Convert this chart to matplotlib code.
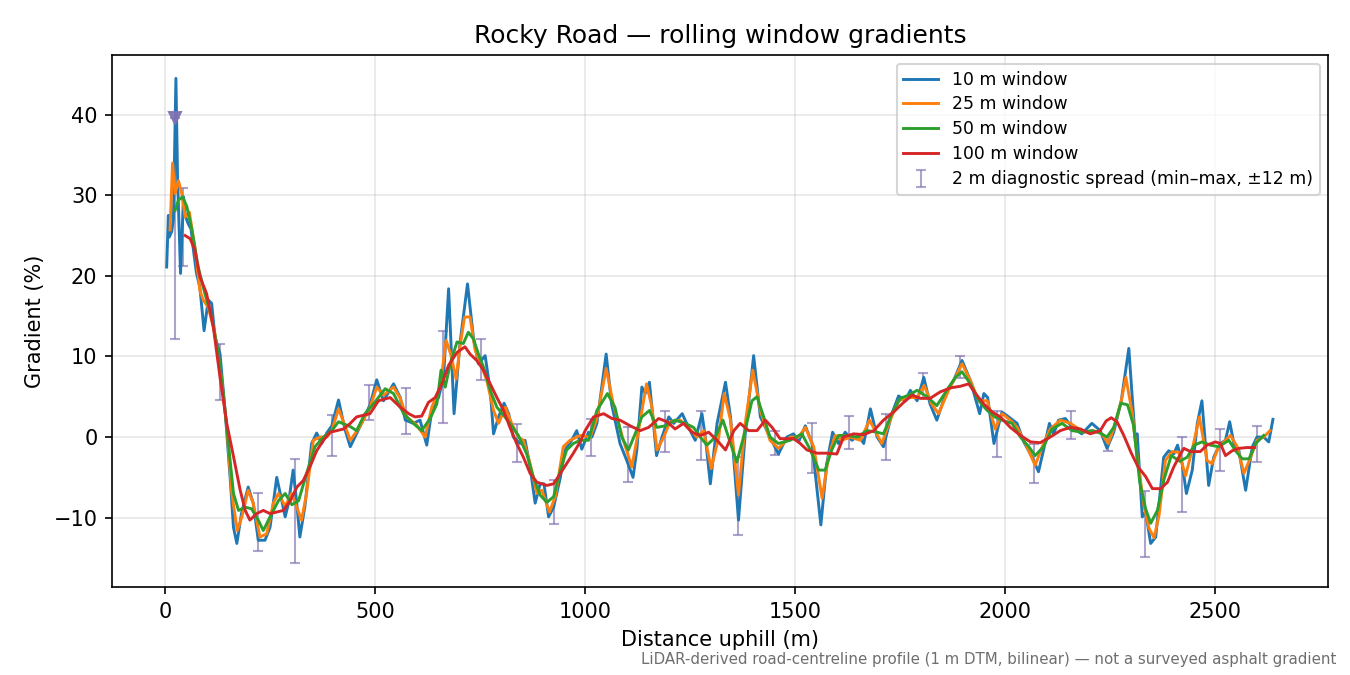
import matplotlib
matplotlib.use("Agg")
import matplotlib.pyplot as plt
import numpy as np

# gradient profiles (distance m, gradient %)
d10 = [4, 8, 10, 16, 20, 26, 30, 37, 44, 48, 55, 62, 67, 75, 83, 93, 103, 111, 119, 131,
       143, 155, 163, 171, 182, 198, 210, 222, 238, 250, 266, 278, 286, 294, 305, 313, 321, 333, 349, 361,
       373, 385, 397, 413, 428, 441, 465, 488, 504, 520, 544, 560, 572, 591, 607, 623, 635, 651, 663, 675,
       688, 702, 720, 734, 746, 762, 774, 782, 794, 807, 818, 829, 845, 857, 869, 881, 893, 902, 913, 925,
       941, 952, 968, 980, 992, 1008, 1016, 1028, 1050, 1063, 1083, 1099, 1114, 1123, 1135, 1143, 1153, 1170, 1183, 1199,
       1211, 1231, 1246, 1262, 1278, 1286, 1298, 1314, 1334, 1346, 1365, 1381, 1401, 1417, 1440, 1460, 1480, 1496, 1508, 1524,
       1540, 1561, 1575, 1589, 1603, 1619, 1635, 1651, 1663, 1679, 1695, 1710, 1730, 1746, 1762, 1774, 1790, 1806, 1821, 1837,
       1861, 1877, 1897, 1917, 1939, 1949, 1958, 1973, 1985, 1992, 2008, 2028, 2044, 2064, 2079, 2091, 2105, 2115, 2127, 2143,
       2159, 2182, 2206, 2226, 2242, 2258, 2276, 2294, 2302, 2309, 2314, 2326, 2334, 2346, 2358, 2377, 2389, 2401, 2410, 2421,
       2431, 2445, 2457, 2468, 2484, 2496, 2512, 2524, 2534, 2544, 2556, 2572, 2588, 2599, 2615, 2627, 2637]
g10 = [21.1, 27.5, 24.8, 25.5, 27.0, 44.5, 32.0, 20.3, 29.8, 27.5, 26.5, 25.8, 23.5, 20.3, 18.6, 13.2, 17.0, 16.6, 12.4, 10.3,
       3.3, -5.0, -11.2, -13.2, -9.5, -6.2, -8.2, -12.8, -12.8, -11.2, -5.0, -7.9, -9.9, -8.2, -4.1, -7.9, -12.4, -8.6, -0.8, 0.5,
       -0.8, 0.5, 1.4, 4.6, 1.0, -1.2, 1.4, 4.0, 7.1, 4.5, 6.6, 4.9, 2.1, 1.7, 2.1, -1.0, 3.3, 4.9, 7.4, 18.4,
       2.9, 11.6, 19.0, 12.4, 9.1, 10.1, 5.8, 0.4, 2.5, 4.2, 2.9, 0.0, -0.8, -0.4, -3.7, -8.2, -5.8, -5.8, -9.9, -8.7,
       -5.0, -1.6, -0.4, 0.8, -1.5, 0.6, 0.0, 1.7, 10.3, 4.1, -0.8, -2.9, -5.0, -1.6, 6.2, 5.4, 6.8, -2.3, 0.0, 2.5,
       1.7, 2.9, 1.2, -0.4, 2.9, 0.0, -5.8, 1.7, 6.8, 2.5, -10.3, 0.4, 10.1, 2.5, 0.0, -2.1, 0.0, 0.4, -0.6, 1.4,
       -0.8, -10.9, -3.3, 0.6, -0.8, 0.6, -0.4, 0.2, -0.8, 3.5, 0.0, -1.2, 2.9, 5.1, 4.5, 5.8, 4.5, 7.4, 4.1, 2.1,
       5.8, 7.0, 9.5, 7.0, 2.9, 5.4, 4.9, -0.8, 1.7, 3.1, 2.5, 1.7, -0.6, -2.5, -4.3, -1.6, 1.7, 0.4, 2.1, 2.3,
       1.2, 0.4, 1.7, 0.8, -1.4, 0.6, 4.5, 11.0, 5.0, 0.0, 0.4, -9.9, -9.3, -13.2, -12.4, -2.5, -1.7, -2.1, -1.0, -3.3,
       -7.0, -4.1, 1.7, 4.5, -6.0, -2.5, -0.8, -0.4, 1.9, -0.8, -1.7, -6.6, -1.2, 0.0, 0.0, -0.6, 2.2]

d25 = [12, 18, 24, 32, 40, 48, 58, 71, 83, 91, 103, 119, 135, 147, 159, 172, 183, 198, 210, 226,
       242, 258, 270, 286, 301, 313, 325, 337, 353, 369, 385, 397, 413, 429, 441, 464, 488, 504, 520, 544,
       560, 575, 599, 619, 635, 655, 669, 680, 693, 702, 713, 726, 738, 754, 766, 782, 794, 810, 825, 841,
       853, 869, 885, 897, 915, 929, 948, 964, 988, 1012, 1028, 1050, 1067, 1091, 1111, 1127, 1146, 1159, 1171, 1187,
       1202, 1226, 1246, 1266, 1282, 1300, 1318, 1331, 1346, 1365, 1381, 1399, 1417, 1440, 1460, 1488, 1508, 1524, 1544, 1564,
       1579, 1595, 1611, 1631, 1655, 1677, 1706, 1726, 1746, 1766, 1790, 1807, 1825, 1841, 1865, 1881, 1897, 1917, 1937, 1957,
       1976, 1992, 2012, 2028, 2048, 2071, 2091, 2107, 2131, 2155, 2187, 2210, 2230, 2245, 2261, 2276, 2287, 2302, 2314, 2330,
       2342, 2354, 2366, 2381, 2397, 2413, 2429, 2445, 2462, 2480, 2492, 2508, 2524, 2536, 2552, 2568, 2584, 2599, 2615, 2630]
g25 = [25.7, 34.0, 30.2, 31.8, 30.2, 27.3, 27.9, 23.6, 18.2, 17.0, 16.1, 12.8, 7.0, 1.3, -7.0, -11.6, -9.9, -6.6, -8.2, -12.4,
       -12.0, -8.2, -7.0, -8.6, -7.0, -8.6, -10.3, -7.0, -0.4, 0.0, 0.0, 0.8, 3.5, 1.3, -0.4, 1.3, 3.7, 6.2, 5.2, 6.2,
       4.8, 2.5, 1.5, 0.0, 3.7, 6.2, 12.0, 10.3, 7.2, 11.2, 14.9, 14.9, 10.8, 8.7, 7.0, 3.3, 1.7, 3.7, 1.7, 0.0,
       -0.4, -3.3, -7.0, -6.6, -9.3, -7.4, -1.2, -0.4, 0.2, 0.0, 2.3, 8.5, 4.1, -0.4, -3.7, 0.8, 6.6, 3.7, -1.6, 0.0,
       1.9, 2.1, 1.2, 0.0, 0.8, -3.9, 0.0, 5.4, 2.1, -7.2, 1.7, 8.3, 3.3, -0.4, -1.4, 0.0, 0.0, 1.2, -1.2, -7.6,
       -2.5, 0.2, -0.4, 0.0, -0.4, 2.1, -0.8, 2.1, 4.5, 4.9, 4.9, 6.4, 4.1, 2.9, 5.8, 7.4, 9.1, 7.0, 4.5, 4.5,
       1.0, 2.9, 2.1, 1.2, -0.8, -3.5, -0.8, 1.0, 2.1, 1.7, 0.6, 0.8, 0.4, -0.8, 1.5, 4.5, 7.4, 3.0, -2.5, -8.5,
       -11.3, -12.5, -9.7, -2.9, -1.8, -1.9, -4.8, -1.5, 2.5, -2.9, -3.3, -1.2, -0.4, 0.2, -1.2, -4.5, -2.5, -0.4, 0.0, 0.8]

d50 = [24, 32, 42, 52, 64, 79, 95, 111, 127, 139, 151, 163, 175, 191, 206, 222, 234, 250, 270, 286,
       302, 318, 337, 357, 377, 397, 413, 441, 456, 476, 496, 524, 544, 568, 591, 611, 631, 647, 657, 667,
       679, 695, 710, 722, 734, 746, 758, 774, 790, 806, 821, 841, 861, 877, 893, 909, 925, 941, 956, 972,
       988, 1008, 1028, 1053, 1071, 1087, 1103, 1119, 1135, 1153, 1171, 1191, 1214, 1238, 1258, 1274, 1290, 1310, 1328, 1346,
       1361, 1377, 1397, 1409, 1425, 1440, 1460, 1488, 1516, 1536, 1556, 1571, 1587, 1603, 1623, 1647, 1671, 1695, 1710, 1730,
       1750, 1770, 1790, 1814, 1837, 1861, 1881, 1897, 1917, 1937, 1957, 1975, 1992, 2016, 2036, 2056, 2071, 2091, 2111, 2135,
       2159, 2183, 2206, 2226, 2242, 2258, 2275, 2291, 2305, 2320, 2334, 2346, 2362, 2378, 2395, 2415, 2433, 2450, 2468, 2488,
       2508, 2532, 2548, 2564, 2580, 2596, 2615]
g50 = [28.1, 29.4, 29.8, 28.6, 25.7, 21.1, 17.8, 14.9, 10.3, 5.3, -0.8, -7.0, -9.1, -8.7, -8.9, -10.3, -11.6, -9.9, -7.9, -7.0,
       -8.4, -7.9, -4.5, -1.2, 0.0, 0.8, 1.9, 1.3, 0.8, 2.9, 4.1, 6.0, 5.4, 2.9, 1.7, 0.8, 2.3, 4.1, 8.3, 6.2,
       9.1, 11.8, 11.6, 13.0, 12.2, 10.3, 8.7, 5.8, 3.7, 2.7, 1.7, 0.2, -2.1, -5.0, -7.2, -8.1, -7.4, -4.1, -1.6, -0.8,
       -0.4, -0.4, 3.3, 5.4, 3.7, 0.0, -1.6, 0.4, 2.5, 3.3, 1.2, 1.4, 2.1, 1.7, 1.2, 0.0, -1.0, 0.0, 2.1, -0.8,
       -3.1, 0.0, 4.5, 5.0, 2.5, 0.0, -0.8, -0.4, 0.4, -1.6, -4.1, -4.1, -1.6, 0.2, 0.2, 0.0, 0.8, 0.6, 0.4, 2.9,
       4.8, 5.2, 5.8, 5.0, 3.9, 5.8, 7.4, 8.1, 6.6, 4.5, 3.3, 2.5, 2.1, 1.7, 0.0, -1.2, -2.3, -1.2, 1.0, 1.7,
       0.8, 0.6, 0.8, 0.5, 0.0, 1.2, 4.2, 4.0, 1.5, -5.6, -8.9, -10.7, -9.1, -5.2, -2.3, -3.0, -2.5, -1.0, -0.6, -1.0,
       -1.2, -0.4, -1.7, -2.7, -2.7, -0.8, 0.2]

d100 = [48, 60, 71, 83, 99, 115, 131, 147, 163, 179, 191, 202, 218, 234, 250, 266, 282, 298, 314, 329,
        345, 361, 377, 393, 409, 425, 441, 456, 472, 488, 508, 536, 560, 580, 595, 611, 627, 643, 659, 675,
        695, 714, 726, 742, 758, 774, 790, 806, 821, 837, 853, 869, 885, 909, 925, 941, 956, 972, 988, 1000,
        1020, 1044, 1064, 1083, 1107, 1131, 1151, 1175, 1195, 1214, 1234, 1254, 1274, 1294, 1314, 1334, 1354, 1369, 1389, 1409,
        1429, 1445, 1464, 1496, 1512, 1528, 1552, 1575, 1599, 1615, 1639, 1663, 1687, 1710, 1734, 1758, 1778, 1798, 1821, 1845,
        1869, 1893, 1913, 1929, 1949, 1969, 1988, 2012, 2036, 2060, 2083, 2107, 2131, 2155, 2179, 2202, 2226, 2240, 2252, 2266,
        2282, 2300, 2316, 2334, 2350, 2370, 2386, 2401, 2417, 2425, 2441, 2464, 2480, 2500, 2512, 2524, 2540, 2556, 2575, 2593]
g100 = [25.0, 24.6, 23.2, 19.9, 17.8, 13.7, 7.4, 1.7, -2.4, -6.6, -9.1, -10.3, -9.5, -9.1, -9.5, -9.3, -9.1, -7.9, -6.2, -5.4,
        -3.7, -1.7, -0.4, 0.6, 0.8, 1.0, 1.7, 2.5, 2.7, 2.9, 4.5, 4.9, 3.7, 2.9, 2.5, 2.6, 4.3, 4.9, 6.6, 8.9,
        10.5, 11.2, 10.3, 9.5, 8.3, 6.6, 4.9, 3.3, 1.2, -0.8, -2.5, -4.5, -5.6, -6.0, -5.8, -4.5, -3.3, -2.0, -0.6, 0.8,
        2.5, 2.9, 2.3, 2.1, 1.4, 0.8, 1.2, 2.3, 1.9, 1.0, 1.7, 0.6, 0.2, 0.6, -0.4, -1.6, 0.8, 1.7, 0.8, 0.8,
        2.1, 1.2, -0.2, -0.2, -0.8, -1.6, -2.0, -2.0, -2.1, 0.0, 0.4, 0.3, 0.8, 2.1, 3.1, 4.3, 5.2, 4.8, 4.8, 5.6,
        6.1, 6.3, 6.6, 5.4, 4.1, 3.1, 2.5, 1.2, 0.2, -0.6, -0.7, 0.0, 0.8, 1.2, 1.0, 0.4, 0.8, 2.0, 2.4, 1.9,
        0.2, -2.0, -3.7, -4.9, -6.4, -6.4, -5.6, -3.7, -2.1, -1.4, -1.8, -1.8, -1.0, -0.6, -0.8, -2.3, -1.7, -1.4, -1.3, -1.3]

# 2 m diagnostic spread (min / max over +-12 m)
spread_d = [24, 44, 132, 221, 309, 397, 485, 574, 662, 751, 837, 925, 1013, 1101, 1189, 1276,
            1364, 1452, 1540, 1627, 1716, 1804, 1893, 1980, 2068, 2156, 2244, 2333, 2421, 2510, 2598]
spread_lo = [12.2, 21.2, 4.6, -14.1, -15.6, -2.3, 2.1, 0.4, 1.7, 7.1, -3.1, -10.8, -2.4, -5.6, -1.9, -2.8,
             -12.1, -2.2, -4.5, -1.5, -2.9, 4.8, 7.3, -2.5, -5.7, -0.3, -1.7, -14.9, -9.3, -4.2, -3.1]
spread_hi = [39.6, 30.9, 11.5, -6.9, -2.7, 2.7, 6.5, 6.1, 13.2, 12.2, 1.6, -5.3, 2.3, 1.3, 3.2, 3.2,
             -2.5, 0.8, 1.7, 2.6, 2.8, 8.0, 10.0, 3.2, -0.9, 3.2, 0.0, -6.7, 0.0, 0.95, 1.4]

peak_d = [24]
peak_g = [39.6]

fig, ax = plt.subplots(figsize=(9, 4.5), dpi=150)
fig.subplots_adjust(left=0.083, right=0.984, top=0.9185, bottom=0.1304)

lo = np.array(spread_lo)
hi = np.array(spread_hi)
mid = (lo + hi) / 2
ax.errorbar(spread_d, mid, yerr=[mid - lo, hi - mid], fmt="none", ecolor="#8172b2",
            elinewidth=1, capsize=2.5, alpha=0.65, zorder=2,
            label="2 m diagnostic spread (min\u2013max, \u00b112 m)")

ax.plot(d10, g10, color="#1f77b4", lw=1.4, label="10 m window", zorder=3)
ax.plot(d25, g25, color="#ff7f0e", lw=1.4, label="25 m window", zorder=3)
ax.plot(d50, g50, color="#2ca02c", lw=1.4, label="50 m window", zorder=3)
ax.plot(d100, g100, color="#d62728", lw=1.4, label="100 m window", zorder=3)

ax.plot(peak_d, peak_g, "v", color="#8172b2", ms=6, alpha=0.9, zorder=4)

ax.set_xlim(-126, 2769)
ax.set_ylim(-18.6, 47.4)
ax.grid(True, alpha=0.3)
ax.set_xlabel("Distance uphill (m)")
ax.set_ylabel("Gradient (%)")
ax.set_title("Rocky Road \u2014 rolling window gradients")
ax.legend(loc="upper right", fontsize=8.3, labelspacing=0.4)

fig.text(0.99, 0.012, "LiDAR-derived road-centreline profile (1 m DTM, bilinear) \u2014 not a surveyed asphalt gradient",
         ha="right", va="bottom", fontsize=7.2, color="#6e6e6e")

fig.savefig("out.png", dpi=150)
